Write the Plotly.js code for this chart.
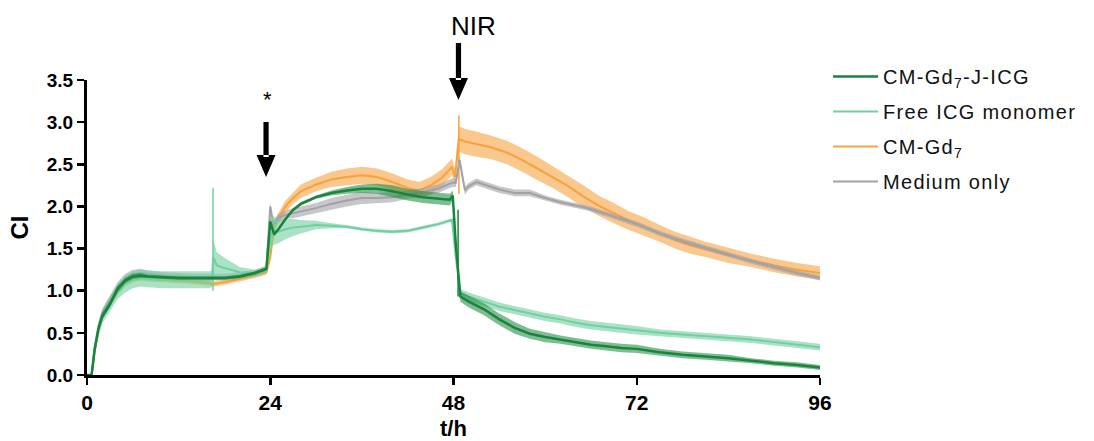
<!DOCTYPE html>
<html>
<head>
<meta charset="utf-8">
<script src="https://cdn.plot.ly/plotly-3.0.1.min.js"></script>
<style>html,body{margin:0;padding:0;background:#fff;}#chart{width:1094px;height:441px;}
.legendtext{letter-spacing:1.3px;}</style>
</head>
<body>
<div id="chart"></div>
<script>
// ---- Data ----
const seriesNames = ["CM-Gd<sub>7</sub>-J-ICG", "Free ICG monomer", "CM-Gd<sub>7</sub>", "Medium only"];

// CM-Gd7-J-ICG
const tG = [0,0.6,1,1.5,2,3,4,5,6,7, 8,10,12,14,16, 18,20,22,23.5,23.8, 24,24.5,25,26,27, 28,30,32,34,36, 38,40,42,44,46, 47.5,47.9,48.3,48.9,50, 52,54,56,58,60, 62,64,66,68,70, 72,75,78,81,84, 87,90,93,96];
const yG = [0,0,0.3,0.55,0.7,0.84,1.02,1.12,1.17,1.18, 1.17,1.16,1.15,1.15,1.15, 1.15,1.17,1.21,1.26,1.55, 1.82,1.67,1.72,1.85,1.96, 2.03,2.11,2.16,2.19,2.21, 2.21,2.18,2.14,2.11,2.09, 2.08,2.13,1.55,0.93,0.87, 0.78,0.66,0.56,0.49,0.45, 0.42,0.39,0.36,0.34,0.32, 0.31,0.27,0.24,0.22,0.20, 0.17,0.14,0.12,0.09];
const sG = [0,0,0.03,0.04,0.04,0.04,0.04,0.03,0.03,0.03, 0.02,0.02,0.02,0.02,0.02, 0.02,0.02,0.02,0.02,0.05, 0.05,0.03,0.02,0.02,0.02, 0.02,0.02,0.03,0.04,0.05, 0.06,0.07,0.07,0.07,0.07, 0.07,0.06,0.05,0.06,0.07, 0.07,0.07,0.07,0.06,0.06, 0.05,0.05,0.05,0.05,0.05, 0.05,0.04,0.04,0.04,0.04, 0.03,0.03,0.03,0.03];

// Free ICG monomer
const tL = [0,0.6,1,1.5,2,3,4,5,6,7, 8,10,12,14,16, 16.4,16.5,17,18,20, 22,23.5,24,24.3,25, 26,27,28,30,32, 34,36,38,40,42, 44,46,47.8,48.3,48.9, 50,52,54,56,58, 60,62,64,66,68, 70,72,75,78,81, 84,87,90,93,96];
const yL = [0,0,0.3,0.52,0.68,0.84,0.99,1.08,1.13,1.15, 1.14,1.13,1.13,1.13,1.13, 1.14,1.4,1.3,1.27,1.22, 1.21,1.25,1.6,1.72,1.70, 1.73,1.75,1.76,1.78,1.77, 1.76,1.73,1.71,1.70,1.71, 1.75,1.79,1.84,1.4,0.97, 0.93,0.87,0.81,0.77,0.73, 0.69,0.66,0.62,0.59,0.57, 0.55,0.53,0.50,0.48,0.46, 0.44,0.42,0.39,0.36,0.33];
const sL = [0,0,0.04,0.06,0.07,0.08,0.09,0.1,0.1,0.1, 0.1,0.1,0.1,0.1,0.1, 0.1,0.22,0.16,0.12,0.06, 0.04,0.03,0.15,0.18,0.14, 0.12,0.1,0.08,0.05,0.03, 0.02,0.02,0.02,0.02,0.02, 0.02,0.02,0.02,0.03,0.05, 0.05,0.05,0.05,0.05,0.05, 0.05,0.05,0.05,0.05,0.05, 0.05,0.05,0.04,0.04,0.04, 0.04,0.04,0.04,0.04,0.04];

// CM-Gd7
const tO = [0,0.6,1,1.5,2,3,4,5,6,7, 8,10,12,14,16, 16.5,18,20,22,23.5, 24,24.5,25,26,27, 28,30,32,34,36, 38,40,42,43.5,45, 46.5,47.8,48.2,48.7,49.5, 51,53,55,57,59, 61,63,65,67,69, 71,73,75,77,79, 81,84,87,90,93, 96];
const yO = [0,0,0.28,0.52,0.68,0.84,0.98,1.08,1.13,1.15, 1.14,1.13,1.12,1.11,1.09, 1.08,1.1,1.14,1.18,1.22, 1.4,1.75,1.85,2.0,2.1, 2.18,2.26,2.32,2.35,2.37, 2.35,2.29,2.22,2.19,2.25, 2.34,2.47,2.35,2.8,2.77, 2.74,2.7,2.64,2.55,2.45, 2.35,2.24,2.12,2.01,1.92, 1.83,1.76,1.68,1.6,1.54, 1.49,1.42,1.36,1.30,1.25, 1.21];
const sO = [0,0,0.02,0.03,0.03,0.03,0.03,0.03,0.03,0.03, 0.03,0.03,0.03,0.03,0.03, 0.03,0.03,0.03,0.03,0.03, 0.05,0.06,0.06,0.07,0.07, 0.08,0.08,0.09,0.1,0.1, 0.1,0.1,0.1,0.1,0.1, 0.1,0.1,0.1,0.15,0.15, 0.15,0.14,0.14,0.14,0.14, 0.13,0.13,0.13,0.12,0.12, 0.11,0.11,0.1,0.1,0.1, 0.09,0.09,0.08,0.08,0.08, 0.08];

// Medium only
const tY = [0,0.6,1,1.5,2,3,4,5,6,7, 8,10,12,14,16, 18,20,22,23.5,24, 24.4,25,26,27,28, 30,32,34,36,38, 40,42,44,46,47.8, 48.3,48.8,49.5,50,51, 52,54,56,58,60, 62,64,66,68,70, 72,75,78,81,84, 87,90,93,96];
const yY = [0,0,0.33,0.58,0.74,0.9,1.05,1.15,1.2,1.21, 1.2,1.18,1.17,1.16,1.16, 1.16,1.18,1.21,1.26,2.0, 1.78,1.86,1.9,1.92,1.94, 1.98,2.03,2.07,2.1,2.1, 2.11,2.14,2.17,2.21,2.28, 2.28,2.55,2.19,2.24,2.29, 2.26,2.2,2.16,2.16,2.1, 2.05,2.01,1.97,1.91,1.85, 1.79,1.68,1.59,1.51,1.43, 1.35,1.28,1.21,1.15];
const sY = [0,0,0.03,0.04,0.05,0.05,0.05,0.05,0.05,0.05, 0.04,0.04,0.04,0.04,0.04, 0.04,0.04,0.04,0.04,0.05, 0.05,0.05,0.05,0.06,0.06, 0.06,0.07,0.07,0.07,0.06, 0.06,0.05,0.05,0.05,0.05, 0.05,0.05,0.05,0.04,0.04, 0.04,0.04,0.04,0.04,0.03, 0.03,0.03,0.03,0.03,0.03, 0.03,0.03,0.03,0.03,0.03, 0.03,0.03,0.03,0.03];

// Single outlying error bars (t, low, high)
const spikeL = [16.5, 1.0, 2.22];
const spikeG = [48.6, 0.93, 1.96];
const spikeO = [48.7, 2.15, 3.08];

const xTicks = [0, 24, 48, 72, 96];
const yTicks = [0, 0.5, 1.0, 1.5, 2.0, 2.5, 3.0, 3.5];

// Event markers: time (h) of the two arrows and their labels
const eventT = [23.45, 48.65];
const eventLabels = ["*", "NIR"];

// ---- Styles ----
const cG = "#17853b", cL = "#72cfa0", cO = "#f7a23f", cY = "#a2a2a6";
const fG = "rgba(23,133,59,0.55)", fL = "rgba(114,207,160,0.6)", fO = "rgba(247,162,63,0.6)", fY = "rgba(162,162,166,0.6)";
const FONT = "Liberation Sans, Arial, Helvetica, sans-serif";

function band(t, y, s, fill, group) {
  const lo = y.map((v, i) => Math.max(0, v - s[i]));
  const hi = y.map((v, i) => v + s[i]);
  return [
    {x: t, y: lo, type: "scatter", mode: "lines", line: {width: 0}, showlegend: false, hoverinfo: "skip", legendgroup: group},
    {x: t, y: hi, type: "scatter", mode: "lines", line: {width: 0}, fill: "tonexty", fillcolor: fill, showlegend: false, hoverinfo: "skip", legendgroup: group}
  ];
}
function spike(sp, color, group) {
  return {x: [sp[0], sp[0]], y: [sp[1], sp[2]], type: "scatter", mode: "lines", line: {color: color, width: 1.5}, showlegend: false, hoverinfo: "skip", legendgroup: group};
}
function meanLine(t, y, color, width, name, rank, group) {
  return {x: t, y: y, type: "scatter", mode: "lines", name: name, line: {color: color, width: width}, legendrank: rank, legendgroup: group};
}

const traces = [].concat(
  band(tO, yO, sO, fO, "o"), [spike(spikeO, cO, "o"), meanLine(tO, yO, cO, 2, seriesNames[2], 3, "o")],
  band(tY, yY, sY, fY, "y"), [meanLine(tY, yY, cY, 2, seriesNames[3], 4, "y")],
  band(tL, yL, sL, fL, "l"), [spike(spikeL, cL, "l"), meanLine(tL, yL, cL, 2, seriesNames[1], 2, "l")],
  band(tG, yG, sG, fG, "g"), [spike(spikeG, cG, "g"), meanLine(tG, yG, cG, 2.5, seriesNames[0], 1, "g")]
);

// Arrow shapes (x in hours, y in paper fraction); geometry in pixels converted by helper
const PX_PER_H = 733 / 96, PLOT_H = 295, PLOT_BOTTOM = 375;
function py(p) { return (PLOT_BOTTOM - p) / PLOT_H; }
function arrowPath(t, top, shaftEnd, headTop, tip) {
  const sw = 2.6 / PX_PER_H, hw = 9.5 / PX_PER_H;
  return "M" + (t - sw) + "," + py(top) + " L" + (t + sw) + "," + py(top) +
         " L" + (t + sw) + "," + py(shaftEnd) + " L" + (t - sw) + "," + py(shaftEnd) + " Z " +
         "M" + (t - hw) + "," + py(headTop) + " L" + (t + hw) + "," + py(headTop) + " L" + t + "," + py(tip) + " Z";
}
const shapes = [
  {type: "path", xref: "x", yref: "paper", path: arrowPath(eventT[0], 122, 157, 155, 177), fillcolor: "#000", line: {width: 0}},
  {type: "path", xref: "x", yref: "paper", path: arrowPath(eventT[1], 43, 80, 78, 100), fillcolor: "#000", line: {width: 0}}
];

const layout = {
  width: 1094, height: 441,
  margin: {l: 87, r: 274, t: 80, b: 66},
  paper_bgcolor: "#fff", plot_bgcolor: "#fff",
  showlegend: true,
  legend: {x: 1.011, xanchor: "left", y: 1.078, yanchor: "top", traceorder: "grouped", tracegroupgap: 6, itemwidth: 45,
           font: {family: FONT, size: 20, color: "#111"}, bgcolor: "rgba(0,0,0,0)"},
  xaxis: {range: [0, 96], tickvals: xTicks, ticktext: xTicks.map(String), showgrid: false, zeroline: false,
          showline: true, linecolor: "#000", linewidth: 3, ticks: "outside", ticklen: 7, tickwidth: 2.5, tickcolor: "#000",
          tickfont: {family: FONT, size: 21, color: "#000", weight: 700},
          title: {text: "<b>t/h</b>", font: {family: FONT, size: 22, color: "#000"}, standoff: 13}},
  yaxis: {range: [0, 3.5], tickvals: yTicks, ticktext: yTicks.map(v => v.toFixed(1)), showgrid: false, zeroline: false,
          showline: true, linecolor: "#000", linewidth: 3, ticks: "outside", ticklen: 7, tickwidth: 2.5, tickcolor: "#000",
          tickfont: {family: FONT, size: 19, color: "#000", weight: 700},
          title: {text: "<b>CI</b>", font: {family: FONT, size: 24, color: "#000"}, standoff: 12}},
  shapes: shapes,
  annotations: [
    {x: eventT[0] + 0.2, y: py(99), xref: "x", yref: "paper", yanchor: "middle", text: eventLabels[0], showarrow: false, font: {family: FONT, size: 22, color: "#000"}},
    {x: 50.6, y: py(26), xref: "x", yref: "paper", yanchor: "middle", text: eventLabels[1], showarrow: false, font: {family: FONT, size: 26, color: "#000"}}
  ]
};

Plotly.newPlot("chart", traces, layout, {displayModeBar: false, staticPlot: true});
</script>
</body>
</html>
